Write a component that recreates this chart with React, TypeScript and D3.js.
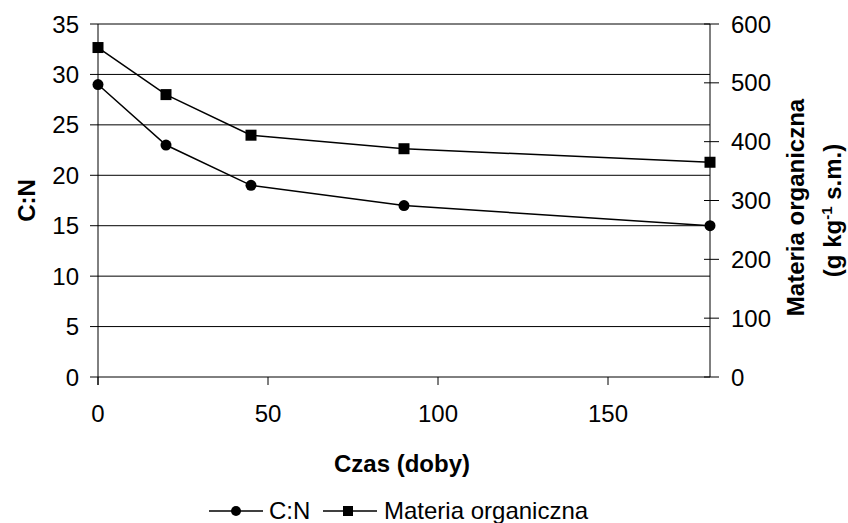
import React from "react";
import * as d3 from "d3";

// Czas (doby)
const days = [0, 20, 45, 90, 180];
// C:N (left axis)
const cnValues = [29, 23, 19, 17, 15];
// Materia organiczna, g kg-1 s.m. (right axis)
const omValues = [560, 480, 411, 388, 365];

const leftTicks = [0, 5, 10, 15, 20, 25, 30, 35];
const rightTicks = [0, 100, 200, 300, 400, 500, 600];
const xTicks = [0, 50, 100, 150];

const FONT = "'Liberation Sans', Arial, sans-serif";

const App: React.FC = () => {
  const width = 848;
  const height = 523;
  const margin = { top: 24, right: 138, bottom: 146, left: 98 };
  const plotRight = width - margin.right;
  const plotBottom = height - margin.bottom;

  const x = d3.scaleLinear().domain([0, 180]).range([margin.left, plotRight]);
  const yLeft = d3.scaleLinear().domain([0, 35]).range([plotBottom, margin.top]);
  const yRight = d3.scaleLinear().domain([0, 600]).range([plotBottom, margin.top]);

  const cnLine = d3
    .line<number>()
    .x((_, i) => x(days[i]))
    .y((d) => yLeft(d));
  const omLine = d3
    .line<number>()
    .x((_, i) => x(days[i]))
    .y((d) => yRight(d));

  const midY = (margin.top + plotBottom) / 2;

  return (
    <svg
      width={width}
      height={height}
      style={{ position: "absolute", left: 0, top: 0, background: "#fff" }}
      fontFamily={FONT}
    >
      {/* gridlines */}
      {leftTicks.map((t) => (
        <line
          key={"g" + t}
          x1={margin.left}
          x2={plotRight}
          y1={yLeft(t)}
          y2={yLeft(t)}
          stroke="#000"
          strokeWidth={1}
        />
      ))}

      {/* left axis */}
      <line x1={margin.left} x2={margin.left} y1={margin.top} y2={plotBottom + 8} stroke="#000" />
      {leftTicks.map((t) => (
        <g key={"l" + t}>
          <line x1={margin.left - 8} x2={margin.left} y1={yLeft(t)} y2={yLeft(t)} stroke="#000" />
          <text x={margin.left - 19} y={yLeft(t)} dy="0.36em" textAnchor="end" fontSize={24}>
            {t}
          </text>
        </g>
      ))}

      {/* right axis */}
      <line x1={plotRight} x2={plotRight} y1={margin.top} y2={plotBottom} stroke="#000" />
      {rightTicks.map((t) => (
        <g key={"r" + t}>
          <line x1={plotRight - 6} x2={plotRight + 9} y1={yRight(t)} y2={yRight(t)} stroke="#000" />
          <text x={plotRight + 21} y={yRight(t)} dy="0.36em" textAnchor="start" fontSize={24}>
            {t}
          </text>
        </g>
      ))}

      {/* x axis */}
      {xTicks.map((t) => (
        <g key={"x" + t}>
          <line x1={x(t)} x2={x(t)} y1={plotBottom} y2={plotBottom + 8} stroke="#000" />
          <text x={x(t)} y={422} textAnchor="middle" fontSize={24}>
            {t}
          </text>
        </g>
      ))}

      {/* series */}
      <path d={omLine(omValues) || ""} fill="none" stroke="#000" strokeWidth={1.5} />
      <path d={cnLine(cnValues) || ""} fill="none" stroke="#000" strokeWidth={1.5} />
      {omValues.map((v, i) => (
        <rect
          key={"s" + i}
          x={x(days[i]) - 5.5}
          y={yRight(v) - 5.5}
          width={11}
          height={11}
          fill="#000"
        />
      ))}
      {cnValues.map((v, i) => (
        <circle key={"c" + i} cx={x(days[i])} cy={yLeft(v)} r={5.5} fill="#000" />
      ))}

      {/* titles */}
      <text
        transform={`translate(35, ${midY}) rotate(-90)`}
        textAnchor="middle"
        fontSize={24}
        fontWeight="bold"
      >
        C:N
      </text>
      <text
        transform={`translate(804, ${midY + 7}) rotate(-90)`}
        textAnchor="middle"
        fontSize={24}
        fontWeight="bold"
      >
        Materia organiczna
      </text>
      <text
        transform={`translate(841, ${midY + 10}) rotate(-90)`}
        textAnchor="middle"
        fontSize={24}
        fontWeight="bold"
      >
        (g kg
        <tspan dy={-9} fontSize={15}>
          -1
        </tspan>
        <tspan dy={9}> s.m.)</tspan>
      </text>
      <text x={x(0) + (plotRight - margin.left) / 2 - 2} y={472} textAnchor="middle" fontSize={24} fontWeight="bold">
        Czas (doby)
      </text>

      {/* legend */}
      <g>
        <line x1={209} x2={263} y1={511} y2={511} stroke="#000" strokeWidth={1.5} />
        <circle cx={236} cy={511} r={5} fill="#000" />
        <text x={269} y={519} fontSize={24}>
          C:N
        </text>
        <line x1={323} x2={377} y1={511} y2={511} stroke="#000" strokeWidth={1.5} />
        <rect x={343} y={506} width={10} height={10} fill="#000" />
        <text x={384} y={519} fontSize={24}>
          Materia organiczna
        </text>
      </g>
    </svg>
  );
};

export default App;
